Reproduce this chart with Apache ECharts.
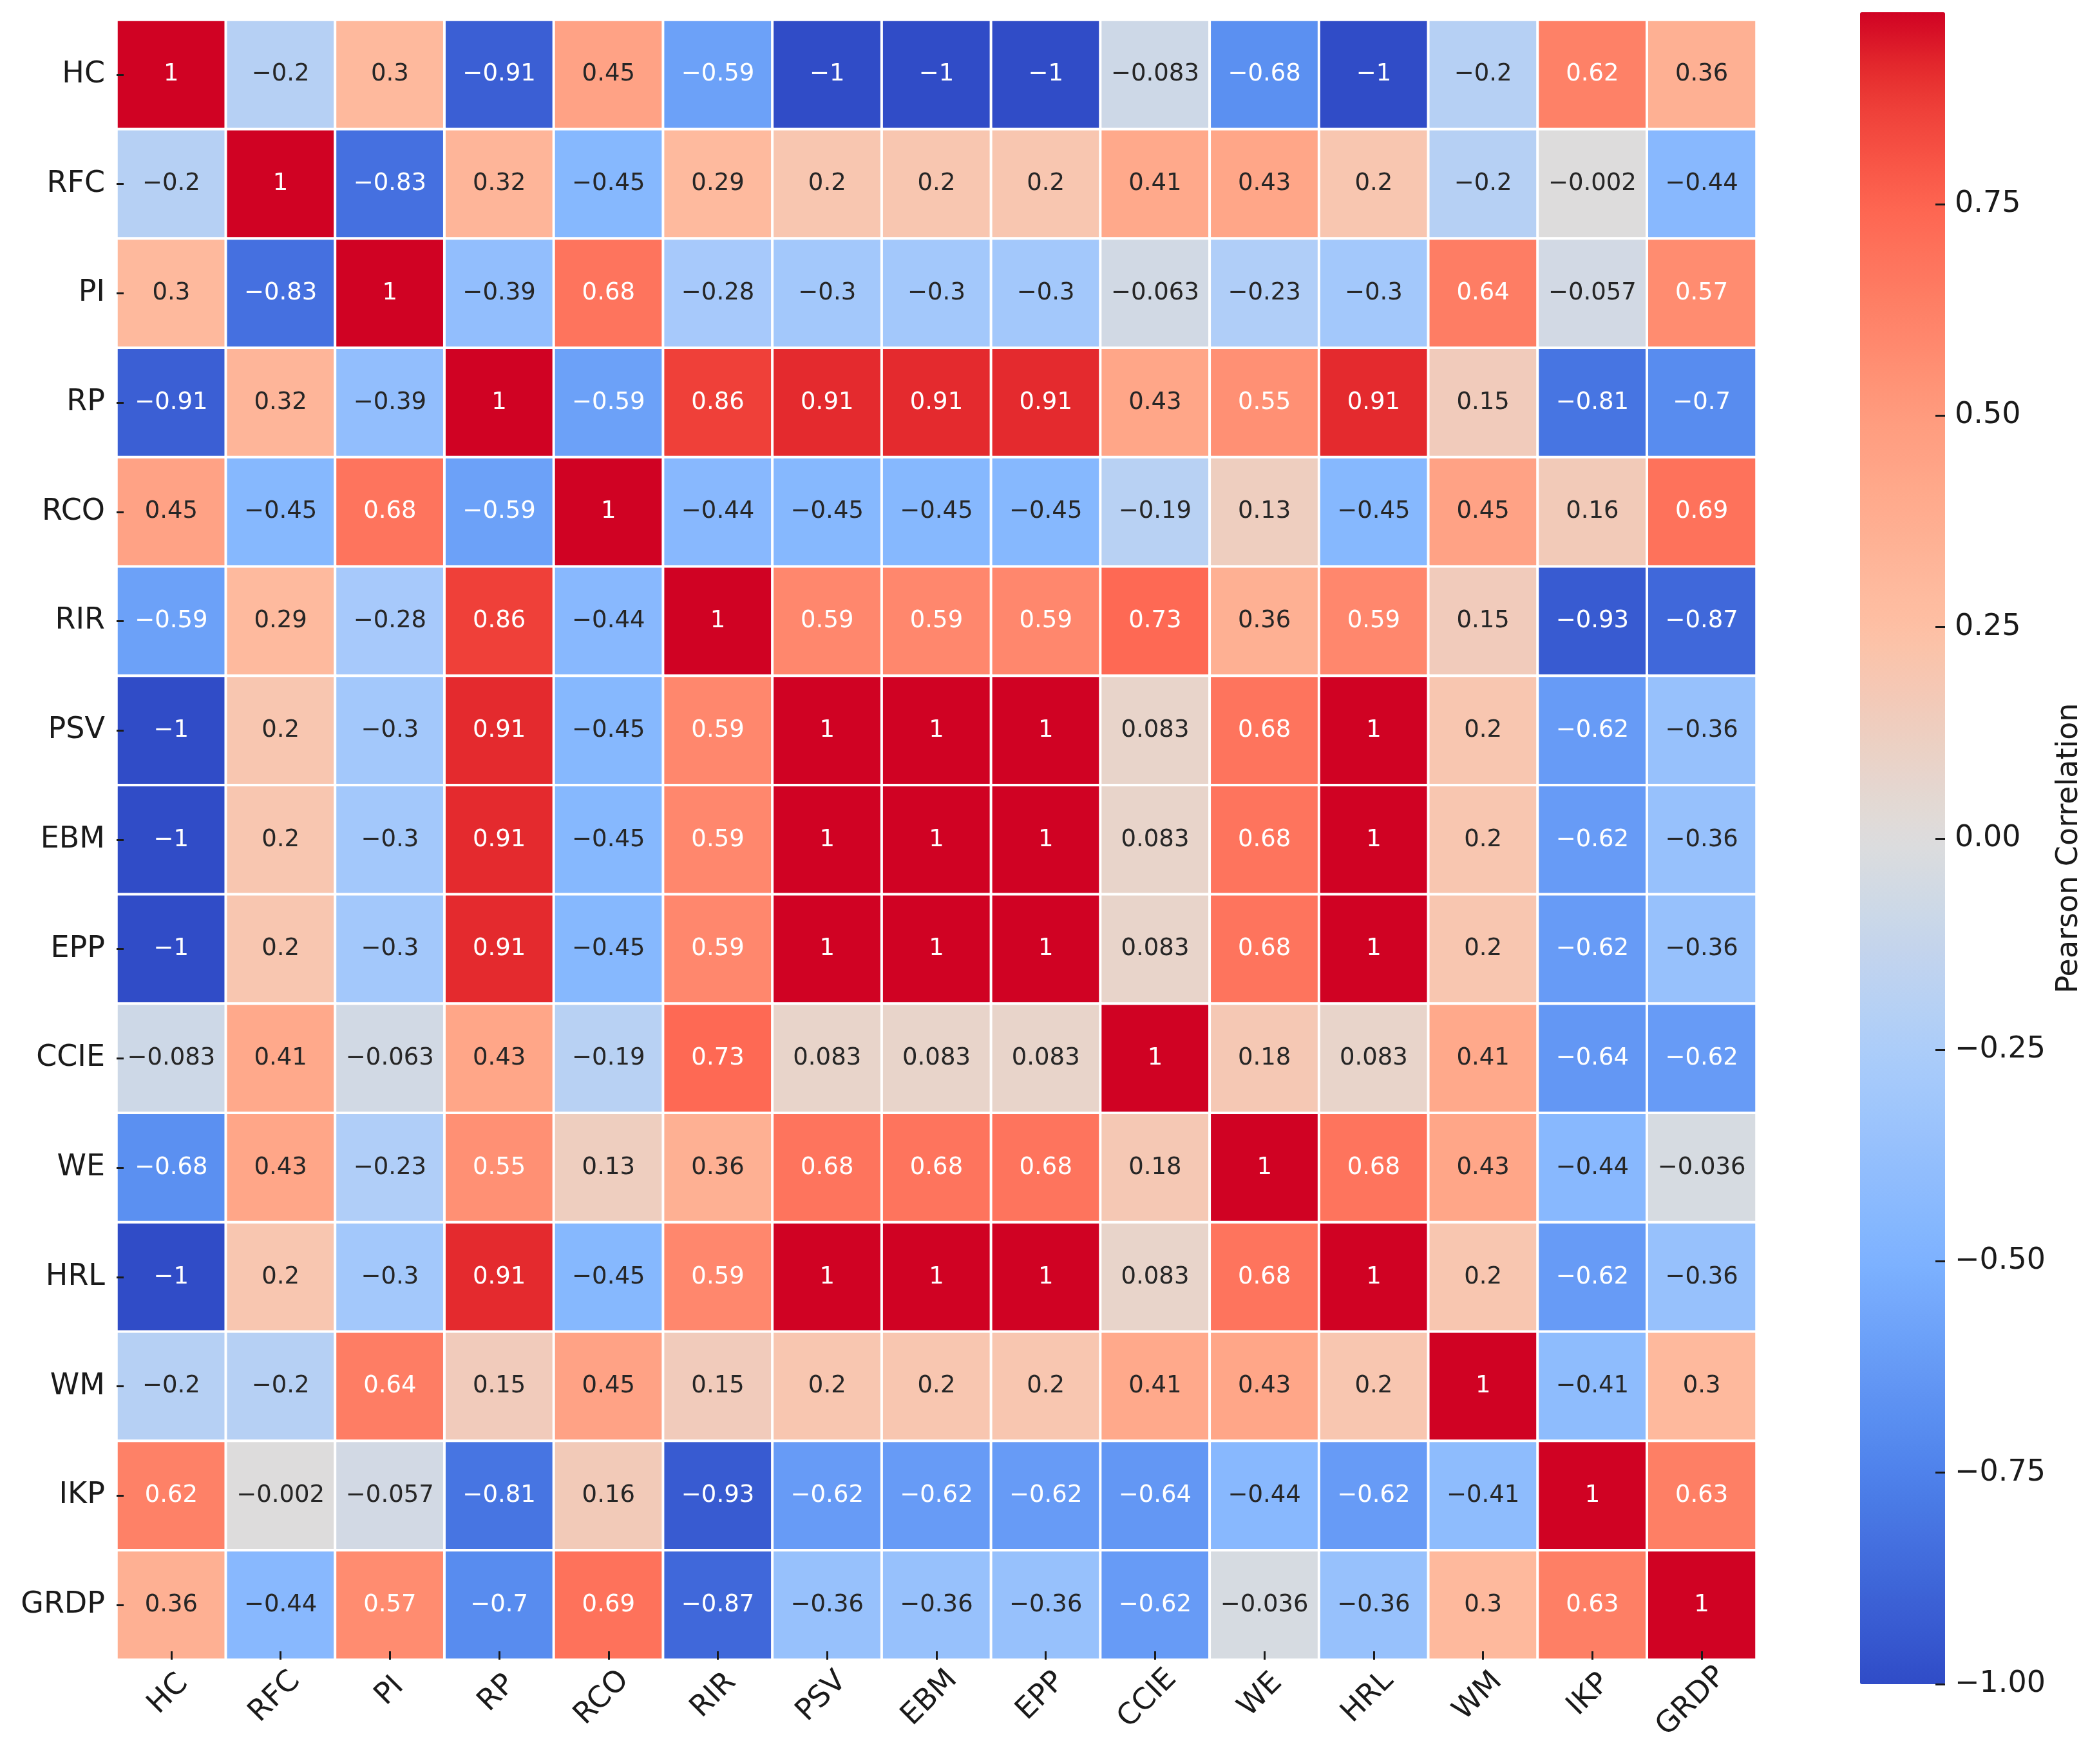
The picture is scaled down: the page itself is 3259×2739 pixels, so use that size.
<!DOCTYPE html>
<html>
<head>
<meta charset="UTF-8">
<title>Pearson Correlation Heatmap</title>
<script src="https://cdn.jsdelivr.net/npm/echarts@6.0.0/dist/echarts.min.js"></script>
<style>
    html, body { margin: 0; padding: 0; background: #fff; }
    #chart { width: 3259px; height: 2739px; }
</style>
</head>
<body>
<div id="chart"></div>
<script>
    // variable names (rows top to bottom, columns left to right)
    var labels = ['HC', 'RFC', 'PI', 'RP', 'RCO', 'RIR', 'PSV', 'EBM', 'EPP', 'CCIE', 'WE', 'HRL', 'WM', 'IKP', 'GRDP'];

    // correlation rows
    var rowHC   = [1, -0.2, 0.3, -0.91, 0.45, -0.59, -1, -1, -1, -0.083, -0.68, -1, -0.2, 0.62, 0.36];
    var rowRFC  = [-0.2, 1, -0.83, 0.32, -0.45, 0.29, 0.2, 0.2, 0.2, 0.41, 0.43, 0.2, -0.2, -0.002, -0.44];
    var rowPI   = [0.3, -0.83, 1, -0.39, 0.68, -0.28, -0.3, -0.3, -0.3, -0.063, -0.23, -0.3, 0.64, -0.057, 0.57];
    var rowRP   = [-0.91, 0.32, -0.39, 1, -0.59, 0.86, 0.91, 0.91, 0.91, 0.43, 0.55, 0.91, 0.15, -0.81, -0.7];
    var rowRCO  = [0.45, -0.45, 0.68, -0.59, 1, -0.44, -0.45, -0.45, -0.45, -0.19, 0.13, -0.45, 0.45, 0.16, 0.69];
    var rowRIR  = [-0.59, 0.29, -0.28, 0.86, -0.44, 1, 0.59, 0.59, 0.59, 0.73, 0.36, 0.59, 0.15, -0.93, -0.87];
    var rowPSV  = [-1, 0.2, -0.3, 0.91, -0.45, 0.59, 1, 1, 1, 0.083, 0.68, 1, 0.2, -0.62, -0.36];
    var rowEBM  = [-1, 0.2, -0.3, 0.91, -0.45, 0.59, 1, 1, 1, 0.083, 0.68, 1, 0.2, -0.62, -0.36];
    var rowEPP  = [-1, 0.2, -0.3, 0.91, -0.45, 0.59, 1, 1, 1, 0.083, 0.68, 1, 0.2, -0.62, -0.36];
    var rowCCIE = [-0.083, 0.41, -0.063, 0.43, -0.19, 0.73, 0.083, 0.083, 0.083, 1, 0.18, 0.083, 0.41, -0.64, -0.62];
    var rowWE   = [-0.68, 0.43, -0.23, 0.55, 0.13, 0.36, 0.68, 0.68, 0.68, 0.18, 1, 0.68, 0.43, -0.44, -0.036];
    var rowHRL  = [-1, 0.2, -0.3, 0.91, -0.45, 0.59, 1, 1, 1, 0.083, 0.68, 1, 0.2, -0.62, -0.36];
    var rowWM   = [-0.2, -0.2, 0.64, 0.15, 0.45, 0.15, 0.2, 0.2, 0.2, 0.41, 0.43, 0.2, 1, -0.41, 0.3];
    var rowIKP  = [0.62, -0.002, -0.057, -0.81, 0.16, -0.93, -0.62, -0.62, -0.62, -0.64, -0.44, -0.62, -0.41, 1, 0.63];
    var rowGRDP = [0.36, -0.44, 0.57, -0.7, 0.69, -0.87, -0.36, -0.36, -0.36, -0.62, -0.036, -0.36, 0.3, 0.63, 1];

    var rows = [rowHC, rowRFC, rowPI, rowRP, rowRCO, rowRIR, rowPSV, rowEBM, rowEPP,
                rowCCIE, rowWE, rowHRL, rowWM, rowIKP, rowGRDP];

    // colour bar range and ticks
    var cbMin = -1;
    var cbMax = 0.977;
    var cbTicks = [-1, -0.75, -0.5, -0.25, 0, 0.25, 0.5, 0.75];

    // colour anchors sampled from the colour bar
    var colorStops = [
        [-1, '#304CC7'], [-0.75, '#4E82EB'], [-0.5, '#7DB2FF'], [-0.25, '#ACCDFA'],
        [0, '#DDDDDD'], [0.25, '#FEC0A4'], [0.5, '#FF9B7D'], [0.75, '#FE6550'],
        [0.86, '#EF413A'], [0.91, '#E42B2D'], [0.977, '#D00223']
    ];

    var FONT = '"DejaVu Sans", sans-serif';
    var MINUS = '\u2212';

    function hexToRgb(h) {
        return [parseInt(h.substr(1, 2), 16), parseInt(h.substr(3, 2), 16), parseInt(h.substr(5, 2), 16)];
    }

    function colorAt(v) {
        for (var k = 1; k < colorStops.length; k++) {
            if (v <= colorStops[k][0]) {
                var a = colorStops[k - 1], b = colorStops[k];
                var t = (v - a[0]) / (b[0] - a[0]);
                var ca = hexToRgb(a[1]), cb = hexToRgb(b[1]);
                return 'rgb(' + ca.map(function (c, i) { return Math.round(c + (cb[i] - c) * t); }).join(',') + ')';
            }
        }
        return colorStops[colorStops.length - 1][1];
    }

    // evenly spaced colours over [cbMin, cbMax] for the visualMap
    var gradient = [];
    var nSteps = 80;
    for (var s = 0; s <= nSteps; s++) {
        gradient.push(colorAt(cbMin + (cbMax - cbMin) * s / nSteps));
    }

    function fmt(v) {
        return String(Number(v.toPrecision(2))).replace('-', MINUS);
    }

    var heatData = [];
    rows.forEach(function (row, i) {
        row.forEach(function (v, j) {
            heatData.push([j, i, v]);
        });
    });

    // rotated x labels: centre each one under its tick with a common top edge
    var ctx = document.createElement('canvas').getContext('2d');
    ctx.font = '46px ' + FONT;
    var widths = labels.map(function (t) { return ctx.measureText(t).width; });
    var wMin = Math.min.apply(null, widths);
    var xLabelMargin = 23 + (wMin + 33) * 0.354;
    var xData = labels.map(function (t, i) {
        var p = (widths[i] - wMin) / 2;
        return {
            value: t,
            textStyle: { align: 'center', verticalAlign: 'middle', padding: [p, p, 0, 0] }
        };
    });

    var chart = echarts.init(document.getElementById('chart'), null, { renderer: 'canvas', devicePixelRatio: 1 });

    var option = {
        backgroundColor: '#ffffff',
        animation: false,
        grid: [
            { left: 181, top: 31, width: 2546, height: 2546 },
            { left: 2888, top: 19, width: 132, height: 2596 }
        ],
        xAxis: [
            {
                type: 'category',
                gridIndex: 0,
                data: xData,
                position: 'bottom',
                z: 5,
                axisLine: { show: false },
                axisTick: { show: true, inside: true, length: 13, alignWithLabel: true, lineStyle: { color: '#1a1a1a', width: 3 } },
                axisLabel: {
                    rotate: 45, align: 'center', verticalAlign: 'middle', margin: xLabelMargin,
                    fontSize: 46, fontFamily: FONT, color: '#1a1a1a', interval: 0
                },
                splitLine: { show: false },
                splitArea: { show: false }
            },
            { type: 'value', gridIndex: 1, show: false, min: 0, max: 1 }
        ],
        yAxis: [
            {
                type: 'category',
                gridIndex: 0,
                data: labels,
                inverse: true,
                z: 5,
                axisLine: { show: false },
                axisTick: { show: true, inside: true, length: 11, alignWithLabel: true, lineStyle: { color: '#1a1a1a', width: 3 } },
                axisLabel: { margin: 18, fontSize: 46, fontFamily: FONT, color: '#1a1a1a', interval: 0 },
                splitLine: { show: false },
                splitArea: { show: false }
            },
            {
                type: 'value',
                gridIndex: 1,
                position: 'right',
                min: cbMin,
                max: cbMax,
                z: 10,
                name: 'Pearson Correlation',
                nameLocation: 'middle',
                nameRotate: 90,
                nameGap: 170,
                nameTextStyle: { fontSize: 46, fontFamily: FONT, color: '#1a1a1a' },
                axisLine: { show: false, onZero: false },
                splitLine: { show: false },
                axisTick: {
                    show: true, inside: true, length: 15, customValues: cbTicks,
                    lineStyle: { color: '#1a1a1a', width: 3 }
                },
                axisLabel: {
                    margin: 15, fontSize: 46, fontFamily: FONT, color: '#1a1a1a',
                    customValues: cbTicks,
                    formatter: function (v) { return v.toFixed(2).replace('-', MINUS); }
                }
            }
        ],
        visualMap: {
            type: 'continuous',
            seriesIndex: 0,
            dimension: 2,
            min: cbMin,
            max: cbMax,
            calculable: false,
            hoverLink: false,
            orient: 'vertical',
            left: 2888,
            top: 19,
            itemWidth: 132,
            itemHeight: 2596,
            padding: 0,
            text: null,
            inRange: { color: gradient }
        },
        series: [
            {
                type: 'heatmap',
                xAxisIndex: 0,
                yAxisIndex: 0,
                data: heatData,
                itemStyle: { borderColor: '#ffffff', borderWidth: 4 },
                emphasis: { disabled: true },
                label: {
                    show: true,
                    fontSize: 37,
                    fontFamily: FONT,
                    formatter: function (p) {
                        var v = p.value[2];
                        return (Math.abs(v) >= 0.5 ? '{w|' : '{d|') + fmt(v) + '}';
                    },
                    rich: {
                        w: { color: '#ffffff', fontSize: 37, fontFamily: FONT },
                        d: { color: '#262626', fontSize: 37, fontFamily: FONT }
                    }
                }
            }
        ]
    };

    chart.setOption(option);
</script>
</body>
</html>
